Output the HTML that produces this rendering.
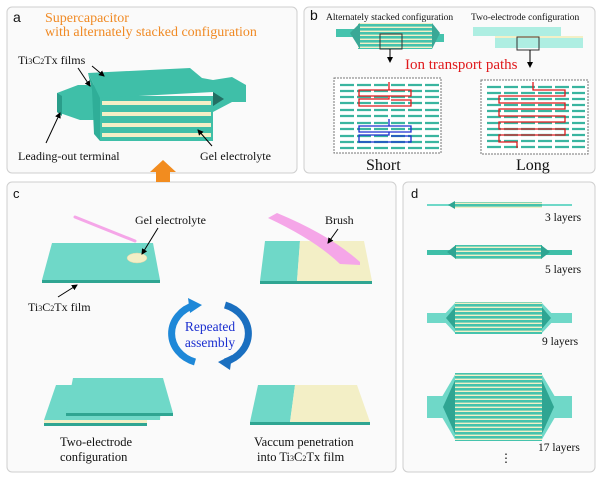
<!DOCTYPE html>
<html><head><meta charset="utf-8"><style>
html,body{margin:0;padding:0;background:#fff;}
svg{display:block;font-family:"Liberation Serif",serif;}
</style></head><body>
<svg width="600" height="479" viewBox="0 0 600 479" xmlns="http://www.w3.org/2000/svg">
<defs>
<marker id="ah" markerWidth="6" markerHeight="6" refX="5" refY="3" orient="auto"><path d="M0,0 L6,3 L0,6 z" fill="#000"/></marker>
<pattern id="st5" width="4" height="4" patternUnits="userSpaceOnUse"><rect width="4" height="4" fill="#f3efc6"/><rect width="4" height="2.6" fill="#45c3ad"/></pattern>
</defs>
<rect x="7" y="7" width="290" height="166" rx="5" fill="#fafafa" stroke="#cfcfcf"/>
<rect x="304" y="7" width="291" height="166" rx="5" fill="#fafafa" stroke="#cfcfcf"/>
<rect x="7" y="182" width="389" height="290" rx="5" fill="#fafafa" stroke="#cfcfcf"/>
<rect x="403" y="182" width="192" height="290" rx="5" fill="#fafafa" stroke="#cfcfcf"/>

<!-- panel a -->
<text x="13" y="22" font-family="Liberation Sans,sans-serif" font-size="14" fill="#111">a</text>
<text x="45" y="22" font-size="14" fill="#f08a24">Supercapacitor</text>
<text x="45" y="36" font-size="14" fill="#f08a24">with alternately stacked configuration</text>
<!-- left terminal -->
<polygon points="57,93 78,85 100,85 100,120 80,120 57,112" fill="#3fbfa8"/>
<polygon points="57,93 62,96 62,116 57,112" fill="#2a9d8a"/>
<!-- stack body -->
<rect x="100" y="96" width="113" height="45" fill="#3fbfa8"/>
<rect x="102" y="101" width="109" height="4" fill="#f3efc6"/>
<rect x="102" y="112" width="109" height="4" fill="#f3efc6"/>
<rect x="102" y="123" width="109" height="4" fill="#f3efc6"/>
<rect x="102" y="133" width="109" height="4" fill="#f3efc6"/>
<!-- top slab -->
<polygon points="88,73 190,68 202,78 213,80 213,92 100,98" fill="#3fbfa8"/>
<polygon points="88,73 100,98 100,141 94,134 92,90" fill="#2fae98"/>
<!-- right terminal -->
<polygon points="213,80 232,77 246,85 246,102 232,102 213,112" fill="#3fbfa8"/>
<polygon points="213,92 224,99 213,106" fill="#236f63"/>
<text x="18" y="64" font-size="12" fill="#111">Ti<tspan font-size="8">3</tspan>C<tspan font-size="8">2</tspan>Tx films</text>
<line x1="78" y1="68" x2="90" y2="86" stroke="#000" marker-end="url(#ah)"/>
<line x1="92" y1="66" x2="104" y2="76" stroke="#000" marker-end="url(#ah)"/>
<line x1="46" y1="143" x2="60" y2="113" stroke="#000" marker-end="url(#ah)"/>
<text x="18" y="160" font-size="12" fill="#111">Leading-out terminal</text>
<line x1="212" y1="146" x2="198" y2="130" stroke="#000" marker-end="url(#ah)"/>
<text x="200" y="160" font-size="12" fill="#111">Gel electrolyte</text>

<polygon points="163,160 176,172 170,172 170,182 156,182 156,172 150,172" fill="#f28c1f"/>

<!-- panel b -->
<text x="310" y="20" font-family="Liberation Sans,sans-serif" font-size="14" fill="#111">b</text>
<text x="326" y="20" font-size="9.5" fill="#111">Alternately stacked configuration</text>
<text x="471" y="20" font-size="9.5" fill="#111">Two-electrode configuration</text>
<rect x="336" y="29" width="30" height="8" fill="#45c3ad"/>
<rect x="424" y="34" width="20" height="8" fill="#45c3ad"/>
<rect x="358" y="23" width="74" height="26" fill="url(#st5)"/>
<polygon points="350,33 360,23 360,49" fill="#3aa896"/>
<polygon points="432,23 440,33 432,49" fill="#3aa896"/>
<rect x="380" y="34" width="22" height="15" fill="none" stroke="#333"/>
<line x1="390" y1="49" x2="390" y2="62" stroke="#000" marker-end="url(#ah)"/>
<rect x="473" y="27" width="88" height="9" fill="#aeeee2"/>
<rect x="495" y="36" width="88" height="2" fill="#f3efc6"/>
<rect x="495" y="38" width="88" height="10" fill="#aeeee2"/>
<rect x="517" y="37" width="22" height="13" fill="none" stroke="#333"/>
<line x1="530" y1="50" x2="530" y2="67" stroke="#000" marker-end="url(#ah)"/>
<text x="405" y="69" font-size="15" fill="#e0191c">Ion transport paths</text>
<rect x="334" y="78" width="107" height="75" fill="#fff" stroke="#777" stroke-dasharray="2,1"/>
<rect x="481" y="80" width="107" height="74" fill="#fff" stroke="#777" stroke-dasharray="2,1"/>
<g stroke="#3ab5a0" stroke-width="2.2">
<path d="M340,85h100M340,91h100M340,97h100M340,103h100M340,110h100M340,116h100M340,123h100M340,129h100M340,136h100M340,142h100M340,148h100" stroke-dasharray="14,3"/>
<path d="M487,87h98M487,93h98M487,99h98M487,105h98M487,111h98M487,117h98M487,123h98M487,129h98M487,135h98M487,141h98M487,147h98" stroke-dasharray="14,3"/>
</g>
<path d="M389,82v8h22v6h-52v-6h30 M389,96v3h-30v7h52v-6h-20" fill="none" stroke="#e0191c" stroke-width="1.3"/>
<path d="M389,119v7h22v6h-52v-6h30 M389,132v3h-30v7h52v-6h-20" fill="none" stroke="#1b2fd0" stroke-width="1.3"/>
<path d="M533,82v8h32v6h-66v7h66v6h-66v7h66v6h-66v7h66v6h-66v7h18v6" fill="none" stroke="#e0191c" stroke-width="1.3"/>
<text x="366" y="170" font-size="16" fill="#111">Short</text>
<text x="516" y="170" font-size="16" fill="#111">Long</text>

<!-- panel c -->
<text x="13" y="198" font-family="Liberation Sans,sans-serif" font-size="13" fill="#111">c</text>
<polygon points="52,243 153,243 160,280 42,280" fill="#6fd8c8"/>
<rect x="42" y="280" width="118" height="3" fill="#2fa592"/>
<line x1="75" y1="217" x2="135" y2="241" stroke="#f5a6e8" stroke-width="3" stroke-linecap="round"/>
<ellipse cx="137" cy="258" rx="10" ry="5" fill="#f3efc6" stroke="#d8d4a8" stroke-width="0.5"/>
<text x="135" y="224" font-size="12" fill="#111">Gel electrolyte</text>
<line x1="158" y1="228" x2="142" y2="254" stroke="#000" marker-end="url(#ah)"/>
<line x1="58" y1="297" x2="77" y2="285" stroke="#000" marker-end="url(#ah)"/>
<text x="28" y="311" font-size="12" fill="#111">Ti<tspan font-size="8">3</tspan>C<tspan font-size="8">2</tspan>Tx film</text>
<polygon points="265,241 300,241 297,281 260,281" fill="#6fd8c8"/>
<polygon points="300,241 364,241 372,281 297,281" fill="#f3efc6"/>
<rect x="260" y="281" width="112" height="3" fill="#2fa592"/>
<path d="M268,218 L277,213 Q330,235 360,262 L360,265 L340,264 Q315,240 268,218z" fill="#f5a6e8"/>
<text x="325" y="224" font-size="12" fill="#111">Brush</text>
<line x1="338" y1="229" x2="328" y2="243" stroke="#000" marker-end="url(#ah)"/>
<path d="M195,305 A34,30 0 0 0 195,362" fill="none" stroke="#1e88d8" stroke-width="7"/>
<path d="M225,305 A34,30 0 0 1 225,362" fill="none" stroke="#1a6fc0" stroke-width="7"/>
<polygon points="188,298 202,305 190,313" fill="#1e88d8"/>
<polygon points="232,355 218,362 230,370" fill="#1a6fc0"/>
<text x="210" y="331" font-size="13.5" fill="#1b2fd0" text-anchor="middle">Repeated</text>
<text x="210" y="347" font-size="13.5" fill="#1b2fd0" text-anchor="middle">assembly</text>
<polygon points="56,385 162,385 160,420 44,420" fill="#6fd8c8"/>
<rect x="44" y="420" width="103" height="3" fill="#f3efc6"/>
<rect x="44" y="423" width="103" height="3" fill="#2fa592"/>
<polygon points="73,378 163,378 173,413 66,413" fill="#6fd8c8"/>
<rect x="66" y="413" width="107" height="3" fill="#2fa592"/>
<text x="60" y="446" font-size="12.5" fill="#111">Two-electrode</text>
<text x="60" y="461" font-size="12.5" fill="#111">configuration</text>
<polygon points="258,385 295,385 290,422 250,422" fill="#6fd8c8"/>
<polygon points="295,385 357,385 370,422 290,422" fill="#f3efc6"/>
<rect x="250" y="422" width="120" height="3" fill="#2fa592"/>
<text x="254" y="446" font-size="12.5" fill="#111">Vaccum penetration</text>
<text x="257" y="461" font-size="12.5" fill="#111">into Ti<tspan font-size="8">3</tspan>C<tspan font-size="8">2</tspan>Tx film</text>

<!-- panel d -->
<text x="411" y="198" font-family="Liberation Sans,sans-serif" font-size="13" fill="#111">d</text>
<rect x="427" y="204" width="145" height="2" fill="#6fd8c8"/>
<rect x="453" y="202" width="89" height="6" fill="url(#st5)"/>
<polygon points="448,205 455,201 455,209" fill="#2fa592"/>
<text x="545" y="221" font-size="11.5" fill="#111">3 layers</text>
<rect x="427" y="250" width="145" height="5" fill="#3fbfa8"/>
<rect x="455" y="245" width="87" height="14" fill="url(#st5)"/>
<polygon points="447,252 456,245 456,259" fill="#2fa592"/>
<polygon points="550,252 541,245 541,259" fill="#2fa592"/>
<text x="545" y="273" font-size="11.5" fill="#111">5 layers</text>
<rect x="427" y="313" width="145" height="10" fill="#6fd8c8"/>
<polygon points="441,318 456,302 456,334" fill="#6fd8c8"/>
<polygon points="556,318 541,302 541,334" fill="#6fd8c8"/>
<polygon points="446,318 456,306 456,330" fill="#2fa592"/>
<polygon points="551,318 541,306 541,330" fill="#2fa592"/>
<rect x="455" y="302" width="87" height="32" fill="url(#st5)"/>
<text x="542" y="345" font-size="11.5" fill="#111">9 layers</text>
<rect x="427" y="396" width="145" height="22" fill="#6fd8c8"/>
<polygon points="436,407 456,373 456,441" fill="#6fd8c8"/>
<polygon points="561,407 541,373 541,441" fill="#6fd8c8"/>
<polygon points="443,407 456,378 456,436" fill="#2fa592"/>
<polygon points="554,407 541,378 541,436" fill="#2fa592"/>
<rect x="455" y="373" width="87" height="68" fill="url(#st5)"/>
<text x="538" y="451" font-size="11.5" fill="#111">17 layers</text>
<text x="500" y="462" font-size="12" fill="#111">⋮</text>
</svg>
</body></html>
